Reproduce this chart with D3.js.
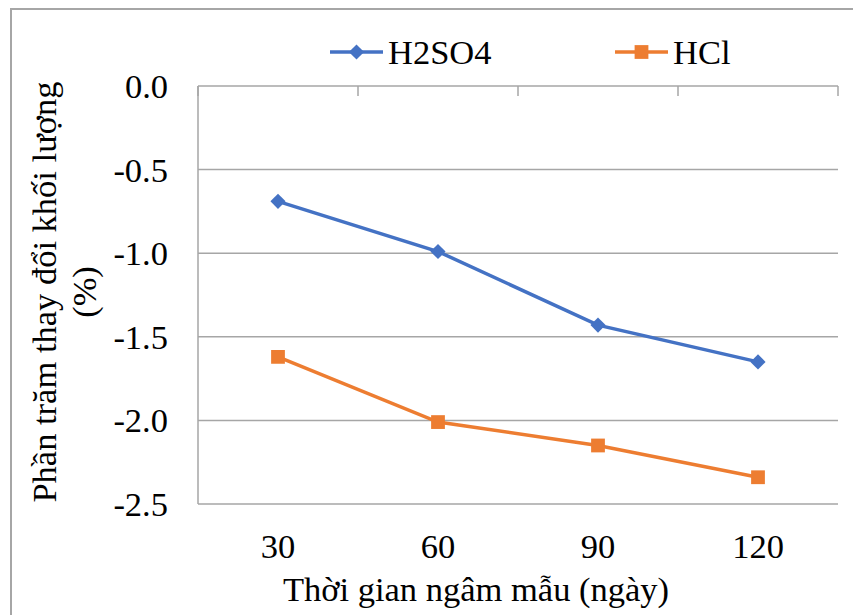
<!DOCTYPE html>
<html>
<head>
<meta charset="utf-8">
<script src="https://cdn.jsdelivr.net/npm/d3@7"></script>
<style>
  body { margin: 0; background: #fff; }
</style>
</head>
<body>
<div id="chart"></div>
<script>
const days = ["30", "60", "90", "120"];
const h2so4 = [-0.69, -0.99, -1.43, -1.65];
const hcl = [-1.62, -2.01, -2.15, -2.34];
const yTicks = [0, -0.5, -1.0, -1.5, -2.0, -2.5];

const width = 853, height = 615;
const font = "'Liberation Serif', 'DejaVu Serif', serif";
const fs = "34.5px";

const svg = d3.select("#chart").append("svg")
    .attr("width", width)
    .attr("height", height)
    .attr("font-family", font);

// chart border (runs off the page on right/bottom)
svg.append("rect")
    .attr("x", 11).attr("y", 9)
    .attr("width", 900).attr("height", 700)
    .attr("fill", "none")
    .attr("stroke", "#a6a6a6")
    .attr("stroke-width", 2);

const x = d3.scaleBand()
    .domain(days)
    .range([198, 838]);

const y = d3.scaleLinear()
    .domain([0, -2.5])
    .range([86, 504]);

// horizontal gridlines
svg.append("g")
    .selectAll("line")
    .data(yTicks)
    .enter()
    .append("line")
    .attr("x1", 198).attr("x2", 838)
    .attr("y1", d => y(d)).attr("y2", d => y(d))
    .attr("stroke", "#a6a6a6")
    .attr("stroke-width", 1.5);

// left axis line
svg.append("line")
    .attr("x1", 198).attr("x2", 198)
    .attr("y1", y(0)).attr("y2", y(-2.5))
    .attr("stroke", "#a6a6a6")
    .attr("stroke-width", 1.5);

// category ticks hanging off the 0.0 line
const tickPos = days.map(d => x(d) + x.bandwidth()).concat([198]);
svg.append("g")
    .selectAll("line")
    .data(tickPos)
    .enter()
    .append("line")
    .attr("x1", d => d).attr("x2", d => d)
    .attr("y1", y(0)).attr("y2", y(0) + 10)
    .attr("stroke", "#a6a6a6")
    .attr("stroke-width", 1.5);

// y tick labels
svg.append("g")
    .selectAll("text")
    .data(yTicks)
    .enter()
    .append("text")
    .attr("x", 168)
    .attr("y", d => y(d) + 12)
    .attr("text-anchor", "end")
    .style("font-size", fs)
    .text(d => d3.format(".1f")(d).replace("−", "-"));

// x tick labels
svg.append("g")
    .selectAll("text")
    .data(days)
    .enter()
    .append("text")
    .attr("x", d => x(d) + x.bandwidth() / 2)
    .attr("y", 558)
    .attr("text-anchor", "middle")
    .style("font-size", fs)
    .text(d => d);

// axis titles
svg.append("text")
    .attr("x", 476).attr("y", 601)
    .attr("text-anchor", "middle")
    .style("font-size", fs)
    .text("Thời gian ngâm mẫu (ngày)");

const yTitle = svg.append("text")
    .attr("transform", "translate(56 " + 292 + ") rotate(-90)")
    .attr("text-anchor", "middle")
    .style("font-size", fs);
yTitle.append("tspan").attr("x", 0).attr("dy", 0).text("Phần trăm thay đổi khối lượng");
yTitle.append("tspan").attr("x", 0).attr("dy", 40).text("(%)");

const line = d3.line()
    .x((d, i) => x(days[i]) + x.bandwidth() / 2)
    .y(d => y(d));

const series = [
    {name: "H2SO4", values: h2so4, color: "#4472C4", size: 115, rot: 45},
    {name: "HCl", values: hcl, color: "#ED7D31", size: 190, rot: 0}
];

series.forEach(s => {
    svg.append("path")
        .attr("d", line(s.values))
        .attr("fill", "none")
        .attr("stroke", s.color)
        .attr("stroke-width", 3.5);

    svg.append("g")
        .selectAll("path")
        .data(s.values)
        .enter()
        .append("path")
        .attr("transform", (d, i) => "translate(" + (x(days[i]) + x.bandwidth() / 2) + "," + y(d) + ") rotate(" + s.rot + ")")
        .attr("d", d3.symbol().type(d3.symbolSquare).size(s.size))
        .attr("fill", s.color);
});

// legend
const legendX = [330, 615];
series.forEach((s, i) => {
    const g = svg.append("g").attr("transform", "translate(" + legendX[i] + ",52)");
    g.append("line")
        .attr("x1", 0).attr("x2", 53)
        .attr("stroke", s.color)
        .attr("stroke-width", 3.5);
    g.append("path")
        .attr("transform", "translate(26.5,0) rotate(" + s.rot + ")")
        .attr("d", d3.symbol().type(d3.symbolSquare).size(s.size))
        .attr("fill", s.color);
    g.append("text")
        .attr("x", 58).attr("y", 12)
        .style("font-size", fs)
        .text(s.name);
});
</script>
</body>
</html>
